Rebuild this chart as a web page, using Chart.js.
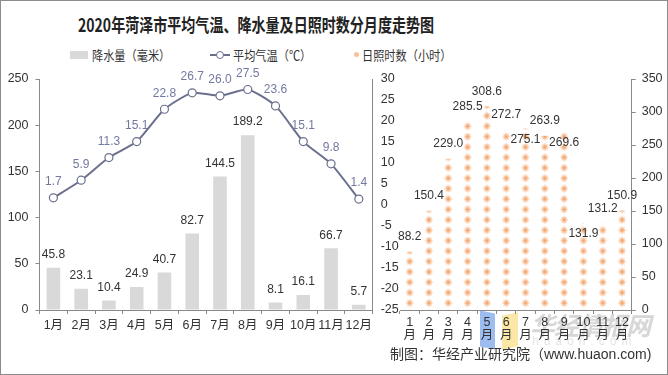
<!DOCTYPE html>
<html>
<head>
<meta charset="utf-8">
<script src="https://cdn.jsdelivr.net/npm/chart.js@4.4.0/dist/chart.umd.min.js"></script>
<style>
html, body { margin: 0; padding: 0; background: #fff; }
#wrap { position: relative; width: 668px; height: 375px; overflow: hidden;
        font-family: "Liberation Sans", "Noto Sans CJK SC", sans-serif; color: #333; }
#frame { position: absolute; left: 0; top: 0; width: 668px; height: 375px; box-sizing: border-box;
         border: 1px solid #8c8c8c; pointer-events: none; }
.abs { position: absolute; white-space: nowrap; }
#title { left: 78px; top: 11px; font-family: "Noto Sans CJK SC", sans-serif; font-weight: bold;
         font-size: 18px; color: #222; transform: scaleX(0.78); transform-origin: left center; }
.lg { font-family: "Noto Sans CJK SC", sans-serif; font-size: 13px; top: 45px; color: #333;
      transform: scaleX(0.86); transform-origin: left center; }
#c1 { position: absolute; left: 0; top: 62px; }
#c2 { position: absolute; left: 395px; top: 62px; }
#footer { left: 390px; top: 343px; font-size: 14px; font-family: "Liberation Sans", "Noto Sans CJK SC", sans-serif; color: #333; }
#wm1 { left: 530px; top: 306px; font-size: 25px; font-weight: bold; font-style: italic; letter-spacing: -1px;
       font-family: "Noto Sans CJK SC", sans-serif; color: rgba(150,150,150,0.4); }
#wm2 { left: 532px; top: 334px; font-size: 12px; letter-spacing: 5px; color: rgba(170,170,170,0.35); }
</style>
</head>
<body>
<div id="wrap">
  <div class="abs" style="left:480px;top:312px;width:15px;height:36px;background:#9dbcf0;transform:skewY(12deg);"></div>
  <div class="abs" style="left:502px;top:314px;width:16px;height:34px;background:#fbe8a6;transform:skewY(-10deg);"></div>
  <div class="abs" id="wm1">华经情报网</div>
  <div class="abs" id="wm2">huaon.com</div>

  <div class="abs" id="title">2020年菏泽市平均气温、降水量及日照时数分月度走势图</div>

  <div class="abs" style="left:70px;top:51px;width:18px;height:8px;background:#d9d9d9;"></div>
  <div class="abs lg" style="left:92px;">降水量（毫米）</div>
  <div class="abs" style="left:210px;top:54px;width:20px;height:2px;background:#6a6f8e;"></div>
  <div class="abs" style="left:216px;top:51px;width:6px;height:6px;border:1.2px solid #6a6f8e;border-radius:50%;background:#fff;"></div>
  <div class="abs lg" style="left:233px;">平均气温（℃）</div>
  <div class="abs" style="left:354px;top:52px;width:5px;height:5px;border-radius:50%;background:#f6c09a;"></div>
  <div class="abs lg" style="left:362px;">日照时数（小时）</div>

  <canvas id="c1" width="400" height="290"></canvas>
  <canvas id="c2" width="273" height="290"></canvas>

  <div class="abs" id="footer">制图：华经产业研究院（www.huaon.com)</div>
  <div id="frame"></div>
</div>
<script>
// данные по месяцам
const months = ['1月', '2月', '3月', '4月', '5月', '6月', '7月', '8月', '9月', '10月', '11月', '12月'];
const monthsVertical = [['1', '月'], ['2', '月'], ['3', '月'], ['4', '月'], ['5', '月'], ['6', '月'],
                        ['7', '月'], ['8', '月'], ['9', '月'], ['10', '月'], ['11', '月'], ['12', '月']];
const rainfall = [45.8, 23.1, 10.4, 24.9, 40.7, 82.7, 144.5, 189.2, 8.1, 16.1, 66.7, 5.7];
const avgTemp = [1.7, 5.9, 11.3, 15.1, 22.8, 26.7, 26.0, 27.5, 23.6, 15.1, 9.8, 1.4];
const sunshine = [88.2, 150.4, 229.0, 285.5, 308.6, 272.7, 275.1, 263.9, 269.6, 131.9, 131.2, 150.9];
// подписи, которые стоят внутри столбца (как в оригинале)
const sunLabelsInside = [6, 8, 9];

Chart.defaults.font.family = '"Liberation Sans", "Noto Sans CJK SC", sans-serif';
Chart.defaults.color = '#333';

const axisColor = '#898989';

// подписи значений над точками / столбцами
const valueLabels = {
    id: 'valueLabels',
    afterDatasetsDraw(chart) {
        const ctx = chart.ctx;
        chart.data.datasets.forEach((ds, di) => {
            const meta = chart.getDatasetMeta(di);
            ctx.save();
            ctx.font = '12px "Liberation Sans", sans-serif';
            ctx.fillStyle = ds.labelColor || '#333';
            ctx.textAlign = 'center';
            ctx.textBaseline = 'middle';
            meta.data.forEach((el, i) => {
                const shift = ds.labelShift ? ds.labelShift(i) : -13;
                ctx.fillText(ds.data[i].toFixed(1), el.x, el.y + shift);
            });
            ctx.restore();
        });
    }
};

// левый график: осадки + температура
new Chart(document.getElementById('c1'), {
    type: 'bar',
    data: {
        labels: months,
        datasets: [{
            type: 'line',
            label: '平均气温（℃）',
            data: avgTemp,
            yAxisID: 'y1',
            borderColor: '#6a6f8e',
            borderWidth: 2,
            pointBackgroundColor: '#fff',
            pointBorderColor: '#6a6f8e',
            pointBorderWidth: 1.2,
            pointRadius: 4,
            tension: 0.2,
            order: 0,
            labelColor: '#7279a0',
            labelShift: () => -16
        }, {
            label: '降水量（毫米）',
            data: rainfall,
            yAxisID: 'y',
            backgroundColor: '#d9d9d9',
            barPercentage: 0.49,
            categoryPercentage: 1,
            order: 1,
            labelShift: () => -13
        }]
    },
    options: {
        responsive: false,
        animation: false,
        layout: { padding: { top: 17, left: 0, right: 0, bottom: 0 } },
        plugins: { legend: { display: false }, tooltip: { enabled: false } },
        scales: {
            x: {
                grid: { display: true, drawOnChartArea: false, tickLength: 4, color: axisColor, offset: true },
                border: { color: axisColor },
                ticks: { font: { size: 12.5 }, padding: 4, maxRotation: 0, autoSkip: false },
                afterFit(scale) { scale.height = 42; }
            },
            y: {
                position: 'left',
                min: 0, max: 250,
                ticks: { stepSize: 50, font: { size: 12.5 }, padding: 7 },
                grid: { drawOnChartArea: false, tickLength: 4, color: axisColor },
                border: { color: axisColor },
                afterFit(scale) { scale.width = 39.5; }
            },
            y1: {
                position: 'right',
                min: -25, max: 30,
                ticks: { stepSize: 5, font: { size: 12.5 }, padding: 8 },
                grid: { drawOnChartArea: false, drawTicks: false, color: axisColor },
                border: { color: axisColor },
                afterFit(scale) { scale.width = 27.3; }
            }
        }
    },
    plugins: [valueLabels]
});

// узор из «звёздочек» для столбцов солнечных часов
function drawStar(g, x, y) {
    const grd = g.createRadialGradient(x, y, 0, x, y, 4);
    grd.addColorStop(0, 'rgba(240,135,60,0.95)');
    grd.addColorStop(0.5, 'rgba(245,170,115,0.6)');
    grd.addColorStop(1, 'rgba(250,205,170,0)');
    g.fillStyle = grd;
    g.beginPath();
    g.arc(x, y, 4, 0, Math.PI * 2);
    g.fill();
    g.strokeStyle = 'rgba(242,160,100,0.5)';
    g.lineWidth = 0.8;
    for (let a = 0; a < 8; a++) {
        const t = a * Math.PI / 4;
        g.beginPath();
        g.moveTo(x + Math.cos(t) * 1.5, y + Math.sin(t) * 1.5);
        g.lineTo(x + Math.cos(t) * 4.2, y + Math.sin(t) * 4.2);
        g.stroke();
    }
}
const tile = document.createElement('canvas');
tile.width = 20;
tile.height = 52;
const tg = tile.getContext('2d');
for (let k = 0; k < 5; k++) drawStar(tg, 10, 5.2 + 10.4 * k);
const ctx2 = document.getElementById('c2').getContext('2d');
const starPattern = ctx2.createPattern(tile, 'repeat');

const alignPattern = {
    id: 'alignPattern',
    beforeDatasetsDraw(chart) {
        const xs = chart.scales.x, ys = chart.scales.y;
        const w = xs.getPixelForValue(1) - xs.getPixelForValue(0);
        const x0 = xs.getPixelForValue(0) - w / 2;
        starPattern.setTransform(new DOMMatrix().translateSelf(x0, ys.bottom - 12.2).scaleSelf(w / 20, 1));
    }
};

// правый график: солнечные часы
new Chart(ctx2, {
    type: 'bar',
    data: {
        labels: monthsVertical,
        datasets: [{
            label: '日照时数（小时）',
            data: sunshine,
            backgroundColor: starPattern,
            barPercentage: 0.55,
            categoryPercentage: 1,
            labelShift: i => sunLabelsInside.includes(i) ? 11 : -15
        }]
    },
    options: {
        responsive: false,
        animation: false,
        layout: { padding: { top: 17, left: 5, right: 0, bottom: 0 } },
        plugins: { legend: { display: false }, tooltip: { enabled: false } },
        scales: {
            x: {
                grid: { display: true, drawOnChartArea: false, tickLength: 4, color: axisColor, offset: true },
                border: { color: axisColor },
                ticks: { font: { size: 12.5, lineHeight: 1.05 }, padding: 2, maxRotation: 0, autoSkip: false },
                afterFit(scale) { scale.height = 42; }
            },
            y: {
                position: 'right',
                min: 0, max: 350,
                ticks: { stepSize: 50, font: { size: 12.5 }, padding: 6 },
                grid: { drawOnChartArea: false, tickLength: 4, color: axisColor },
                border: { color: axisColor },
                afterFit(scale) { scale.width = 36.3; }
            }
        }
    },
    plugins: [alignPattern, valueLabels]
});
</script>
</body>
</html>
